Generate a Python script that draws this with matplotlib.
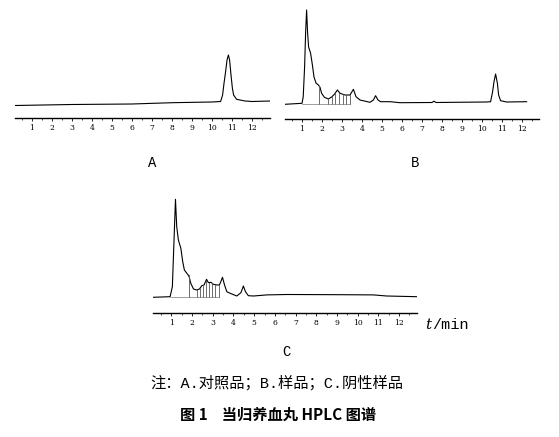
import matplotlib
matplotlib.use("Agg")
import matplotlib.pyplot as plt
import numpy as np

plt.rcParams['font.family'] = ['Noto Sans CJK SC', 'DejaVu Sans']

W, H = 559, 437

# chromatogram A (reference standard)
t_a = [0.15, 3.0, 6.0, 8.0, 10.0, 10.43, 10.53, 10.6, 10.68, 10.75, 10.82,
       10.88, 10.95, 11.02, 11.08, 11.23, 11.65, 12.0, 12.9]
s_a = [12.5, 13.5, 14.0, 15.3, 16.0, 16.5, 23.0, 34.7, 46.3, 58.0, 63.0,
       58.0, 43.0, 29.7, 23.0, 18.7, 17.0, 16.5, 17.0]

# chromatogram B (sample)
t_b = [0.15, 1.0, 1.06, 1.13, 1.18, 1.23, 1.28, 1.33, 1.43, 1.52, 1.6, 1.7,
       1.82, 1.9, 1.98, 2.12, 2.32, 2.48, 2.62, 2.77, 2.9, 3.15, 3.4, 3.57,
       3.7, 3.9, 4.4, 4.57, 4.68, 4.8, 4.93, 5.4, 5.9, 7.5, 7.6, 7.7, 10.23,
       10.43, 10.53, 10.6, 10.68, 10.77, 10.83, 10.93, 11.23, 12.23]
s_b = [14.7, 15.7, 22.0, 52.0, 86.0, 109.0, 86.0, 72.0, 65.7, 54.0, 42.0, 36.0,
       34.0, 31.7, 25.7, 21.7, 20.0, 22.0, 24.7, 29.0, 25.7, 24.0, 24.0, 29.7,
       22.3, 19.0, 16.7, 19.0, 23.3, 19.0, 17.3, 17.3, 16.3, 16.5, 17.8, 16.5,
       17.0, 17.3, 27.3, 37.3, 45.0, 35.7, 24.0, 18.3, 17.0, 17.3]
drops_b = [1.85, 2.32, 2.48, 2.65, 2.87, 3.03, 3.18, 3.4]

# chromatogram C (negative sample)
t_c = [0.1, 0.94, 1.05, 1.13, 1.2, 1.26, 1.34, 1.46, 1.55, 1.63, 1.75, 1.85,
       1.94, 2.07, 2.23, 2.36, 2.47, 2.58, 2.7, 2.79, 2.91, 3.03, 3.2, 3.32,
       3.39, 3.47, 3.57, 3.68, 3.84, 4.16, 4.36, 4.48, 4.58, 4.72, 4.97, 5.61,
       6.58, 9.15, 10.76, 11.4, 12.86]
s_c = [15.4, 16.0, 26.0, 72.7, 113.4, 86.0, 72.7, 64.4, 51.0, 42.7, 39.4, 36.7,
       29.4, 23.7, 22.7, 23.7, 27.0, 27.7, 33.4, 30.0, 30.4, 28.4, 27.7, 27.7,
       31.0, 35.4, 27.7, 21.0, 19.4, 16.7, 20.0, 26.7, 21.0, 17.0, 16.7, 17.8,
       18.2, 18.0, 17.8, 16.7, 16.0]
drops_c = [1.83, 2.26, 2.39, 2.52, 2.66, 2.83, 2.96, 3.12, 3.31]

ticks = list(range(1, 13))

fig = plt.figure(figsize=(W / 100, H / 100), dpi=100)


def panel(left, right, axis_y, top, xlim, t, s, drops=None, base=None):
    ax = fig.add_axes([left / W, (H - axis_y) / H, (right - left) / W,
                       (axis_y - top) / H])
    ax.plot(t, s, color='black', lw=0.8)
    if drops:
        for d in drops:
            ax.plot([d, d], [base, np.interp(d, t, s)], color='#555555', lw=0.6)
        ax.plot([t[1], drops[-1]], [base, base], color='#777777', lw=0.5)
    ax.set_xlim(*xlim)
    ax.set_ylim(0, axis_y - top)
    for sp in ['top', 'left', 'right']:
        ax.spines[sp].set_visible(False)
    ax.spines['bottom'].set_linewidth(1.0)
    ax.set_yticks([])
    ax.set_xticks(ticks)
    ax.set_xticklabels([str(v) for v in ticks], family='DejaVu Serif',
                       fontsize=5.5)
    ax.set_xticks(np.arange(0.5, 13, 0.5), minor=True)
    ax.tick_params(axis='x', which='major', length=2.5, width=0.6, pad=2)
    ax.tick_params(axis='x', which='minor', length=1.5, width=0.5)
    ax.patch.set_alpha(0)
    return ax


panel(15, 270, 118, 5, (0.15, 12.9), t_a, s_a)
panel(285, 539, 119, 5, (0.15, 12.85), t_b, s_b, drops_b, 14.7)
panel(152.7, 416.7, 312.7, 195, (0.1, 12.85), t_c, s_c, drops_c, 15.6)


def ftext(x, y, txt, **kw):
    fig.text(x / W, 1 - y / H, txt, ha='center', va='center', **kw)


mixed = ['Liberation Mono', 'Noto Sans CJK SC']
ftext(152, 163, "A", fontsize=10, family='Liberation Mono')
ftext(415, 163, "B", fontsize=10, family='Liberation Mono')
ftext(286, 352, "C", fontsize=10, family='Liberation Mono')
fig.text(425 / W, 1 - 325 / H, "t", family='DejaVu Serif', style='italic',
         fontsize=11, ha='left', va='center')
fig.text(432 / W, 1 - 325 / H, "/min", family='Liberation Mono',
         fontsize=11, ha='left', va='center')
ftext(277, 383, "注：A.对照品；B.样品；C.阴性样品", fontsize=11, family=mixed)
ftext(278, 415, "图 1    当归养血丸 HPLC 图谱", fontsize=11,
      fontweight='bold')

fig.savefig("out.png", dpi=100)
